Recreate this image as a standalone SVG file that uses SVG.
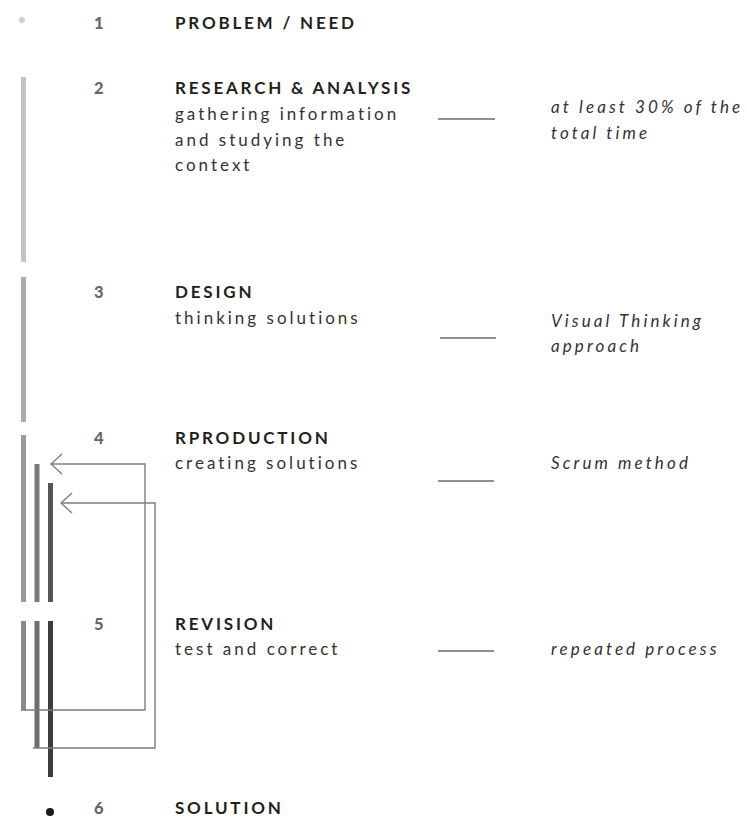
<svg xmlns="http://www.w3.org/2000/svg" width="747" height="819" viewBox="0 0 747 819">
<style>
  .num { font-family: Lato, "Liberation Sans", sans-serif; font-weight: 900; font-size: 16.5px; fill: #666; }
  .ttl { font-family: Lato, "Liberation Sans", sans-serif; font-weight: 700; font-size: 17px; fill: #231f20; letter-spacing: 2.8px; }
  .sub { font-family: Lato, "Liberation Sans", sans-serif; font-weight: 400; font-size: 17px; fill: #333; letter-spacing: 3px; }
  .note { font-family: Lato, "Liberation Sans", sans-serif; font-style: italic; font-size: 17px; fill: #333; letter-spacing: 3.1px; }
  .dash { stroke: #222; stroke-width: 1.2; }
  .loop { fill: none; stroke: #7d7d7d; stroke-width: 1.4; }
</style>
<rect width="747" height="819" fill="#fff"/>

<!-- timeline bars and end dots -->
<g id="bars">
  <rect x="21" y="77" width="5" height="185" fill="#c4c4c4"/>
  <rect x="21" y="277" width="5" height="145" fill="#acacac"/>
  <rect x="21" y="435" width="5" height="167" fill="#9a9a9a"/>
  <rect x="34.5" y="464" width="5" height="138" fill="#7a7a7a"/>
  <rect x="48" y="483" width="5" height="119" fill="#555"/>
  <rect x="21" y="621" width="5" height="89" fill="#8a8a8a"/>
  <rect x="34.5" y="621" width="5" height="127" fill="#6e6e6e"/>
  <rect x="48" y="621" width="5" height="156" fill="#3c3c3c"/>
  <circle cx="22" cy="20" r="3" fill="#cfcfcf"/>
  <circle cx="50" cy="812" r="4" fill="#1a1a1a"/>
</g>

<!-- feedback loops and note dashes -->
<g id="connectors">
  <polyline class="loop" points="21,710 145,710 145,464 51,464"/>
  <polyline class="loop" points="62,454 51,464 62,474"/>
  <polyline class="loop" points="33,748 155,748 155,503 61,503"/>
  <polyline class="loop" points="72,493 61,503 72,513"/>
  <line class="dash" x1="438" y1="119" x2="495" y2="119"/>
  <line class="dash" x1="440" y1="338" x2="496" y2="338"/>
  <line class="dash" x1="438" y1="481" x2="494" y2="481"/>
  <line class="dash" x1="438" y1="651" x2="494" y2="651"/>
</g>

<g id="step1">
  <text class="num" x="94" y="29">1</text>
  <text class="ttl" x="175" y="29">PROBLEM / NEED</text>
</g>
<g id="step2">
  <text class="num" x="94" y="94">2</text>
  <text class="ttl" x="175" y="94">RESEARCH &amp; ANALYSIS</text>
  <text class="sub" x="175" y="120">gathering information</text>
  <text class="sub" x="175" y="145.5">and studying the</text>
  <text class="sub" x="175" y="171">context</text>
  <text class="note" x="551" y="113">at least 30% of the</text>
  <text class="note" x="551" y="139">total time</text>
</g>
<g id="step3">
  <text class="num" x="94" y="298">3</text>
  <text class="ttl" x="175" y="298">DESIGN</text>
  <text class="sub" x="175" y="324">thinking solutions</text>
  <text class="note" x="551" y="327">Visual Thinking</text>
  <text class="note" x="551" y="352">approach</text>
</g>
<g id="step4">
  <text class="num" x="94" y="444">4</text>
  <text class="ttl" x="175" y="444">RPRODUCTION</text>
  <text class="sub" x="175" y="469">creating solutions</text>
  <text class="note" x="551" y="469">Scrum method</text>
</g>
<g id="step5">
  <text class="num" x="94" y="630">5</text>
  <text class="ttl" x="175" y="630">REVISION</text>
  <text class="sub" x="175" y="655">test and correct</text>
  <text class="note" x="551" y="655">repeated process</text>
</g>
<g id="step6">
  <text class="num" x="94" y="814">6</text>
  <text class="ttl" x="175" y="814">SOLUTION</text>
</g>
</svg>
